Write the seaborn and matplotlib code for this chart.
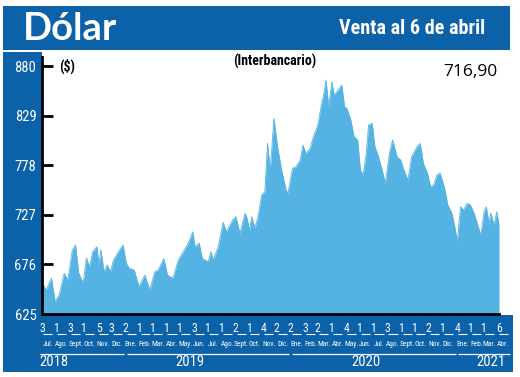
import matplotlib
matplotlib.use('Agg')
import matplotlib.pyplot as plt
import matplotlib.transforms as mtransforms
from matplotlib.patches import Rectangle
from matplotlib import font_manager as fm
import seaborn as sns
import pandas as pd
import numpy as np

# ---------------- data ----------------
fechas = [
    "2018-07-03", "2018-07-11", "2018-07-23", "2018-07-31", "2018-08-09", "2018-08-20",
    "2018-08-28", "2018-09-07", "2018-09-14", "2018-09-21", "2018-10-01", "2018-10-08",
    "2018-10-15", "2018-10-22", "2018-10-31", "2018-11-05", "2018-11-09", "2018-11-16",
    "2018-11-23", "2018-11-30", "2018-12-07", "2018-12-20", "2018-12-28", "2019-01-04",
    "2019-01-11", "2019-01-22", "2019-02-01", "2019-02-14", "2019-02-25", "2019-03-08",
    "2019-03-15", "2019-03-28", "2019-04-05", "2019-04-17", "2019-04-29", "2019-05-10",
    "2019-05-21", "2019-05-31", "2019-06-05", "2019-06-14", "2019-06-21", "2019-07-04",
    "2019-07-10", "2019-07-15", "2019-07-26", "2019-08-06", "2019-08-13", "2019-08-27",
    "2019-09-03", "2019-09-12", "2019-09-23", "2019-09-27", "2019-10-03", "2019-10-08",
    "2019-10-15", "2019-10-22", "2019-10-30", "2019-11-06", "2019-11-12", "2019-11-18",
    "2019-11-26", "2019-12-04", "2019-12-13", "2019-12-23", "2019-12-27", "2020-01-06",
    "2020-01-14", "2020-01-23", "2020-01-29", "2020-02-05", "2020-02-14", "2020-02-21",
    "2020-03-02", "2020-03-09", "2020-03-16", "2020-03-20", "2020-03-26", "2020-04-02",
    "2020-04-07", "2020-04-13", "2020-04-24", "2020-04-30", "2020-05-05", "2020-05-14",
    "2020-05-21", "2020-05-29", "2020-06-04", "2020-06-10", "2020-06-17", "2020-06-22",
    "2020-06-30", "2020-07-06", "2020-07-14", "2020-07-22", "2020-07-29", "2020-08-07",
    "2020-08-14", "2020-08-24", "2020-09-01", "2020-09-08", "2020-09-17", "2020-09-25",
    "2020-10-07", "2020-10-14", "2020-10-21", "2020-10-30", "2020-11-06", "2020-11-13",
    "2020-11-20", "2020-11-27", "2020-12-07", "2020-12-14", "2020-12-23", "2020-12-30",
    "2021-01-04", "2021-01-11", "2021-01-18", "2021-01-26", "2021-02-02", "2021-02-10",
    "2021-02-17", "2021-02-25", "2021-03-04", "2021-03-09", "2021-03-15", "2021-03-19",
    "2021-03-26", "2021-04-01", "2021-04-06",
]
valores = [
    656.6, 649.7, 661.7, 637.6, 644.5, 666.8,
    660.0, 690.8, 696.0, 667.0, 657.0, 682.6,
    673.6, 689.0, 694.2, 675.4, 690.8, 668.5,
    675.4, 668.5, 680.5, 690.8, 696.0, 677.0,
    672.0, 670.0, 653.0, 665.0, 649.7, 668.5,
    670.0, 682.0, 665.0, 661.7, 680.5, 689.0,
    697.7, 709.6, 694.0, 698.0, 682.0, 678.8,
    689.0, 680.5, 694.0, 719.2, 709.6, 721.6,
    725.0, 708.0, 728.5, 725.0, 711.0, 725.0,
    713.4, 725.0, 747.3, 750.8, 800.5, 773.0,
    826.2, 797.0, 773.0, 752.5, 749.0, 774.8,
    776.4, 783.3, 798.7, 790.0, 795.2, 807.0,
    819.3, 838.0, 853.5, 865.6, 838.0, 863.9,
    850.0, 853.5, 860.4, 838.0, 836.5, 824.4,
    807.3, 803.9, 773.0, 767.9, 790.2, 819.3,
    821.0, 797.0, 786.7, 773.0, 759.3, 790.2,
    803.9, 786.7, 783.3, 773.0, 762.7, 786.7,
    797.0, 800.5, 780.0, 769.8, 756.0, 757.6,
    767.9, 769.8, 754.3, 737.0, 728.5, 713.1,
    699.3, 735.3, 731.9, 738.8, 737.0, 728.5,
    718.2, 706.0, 730.2, 735.3, 718.2, 728.5,
    716.5, 730.2, 716.9,
]

y_ticks = [625, 676, 727, 778, 829, 880]

tick_fechas = [
    "2018-07-03", "2018-08-01", "2018-09-03", "2018-10-01", "2018-11-05", "2018-12-03",
    "2019-01-02", "2019-02-01", "2019-03-01", "2019-04-01", "2019-05-01", "2019-06-03",
    "2019-07-01", "2019-08-01", "2019-09-02", "2019-10-01", "2019-11-04", "2019-12-02",
    "2020-01-02", "2020-02-03", "2020-03-02", "2020-04-01", "2020-05-04", "2020-06-01",
    "2020-07-01", "2020-08-03", "2020-09-01", "2020-10-01", "2020-11-02", "2020-12-01",
    "2021-01-04", "2021-02-01", "2021-03-01", "2021-04-06",
]
tick_dias = ["3", "1", "3", "1", "5", "3", "2", "1", "1", "1", "1", "3", "1", "1", "2", "1",
             "4", "2", "2", "3", "2", "1", "4", "1", "1", "3", "1", "1", "2", "1", "4", "1",
             "1", "6"]
meses = ["Jul.", "Ago.", "Sept.", "Oct.", "Nov.", "Dic.",
         "Ene.", "Feb.", "Mar.", "Abr.", "May.", "Jun.", "Jul.", "Ago.", "Sept.", "Oct.", "Nov.", "Dic.",
         "Ene.", "Feb.", "Mar.", "Abr.", "May.", "Jun.", "Jul.", "Ago.", "Sept.", "Oct.", "Nov.", "Dic.",
         "Ene.", "Feb.", "Mar.", "Abr."]
anios = ["2018", "2019", "2020", "2021"]

titulo = "Dólar"
subtitulo = "Venta al 6 de abril"
unidad = "($)"
serie = "(Interbancario)"
ultimo = "716,90"

# ---------------- style ----------------
BANNER = "#0b62a9"
AREA = "#55b3e3"

names = {f.name for f in fm.fontManager.ttflist}
def pick(*cands):
    for c in cands:
        if c in names:
            return c
    return "DejaVu Sans"

NARROW = pick("Liberation Sans Narrow", "Roboto Condensed", "Open Sans Condensed", "DejaVu Sans")
TITLEF = pick("Lato", "Open Sans", "DejaVu Sans")
REG = pick("Open Sans", "Lato", "DejaVu Sans")

sns.set_theme(style="white")
plt.rcParams["font.family"] = [NARROW, "DejaVu Sans"]

W, H = 520, 377
fig = plt.figure(figsize=(W / 100, H / 100), dpi=100)
fig.patch.set_facecolor("white")

def fx(px):
    return px / W

def fy(py):
    return 1 - py / H

# axes: x 42..499, y 57..314 (top-down px)
AX_L, AX_R, AX_T, AX_B = 42, 499, 57, 314
ax = fig.add_axes([fx(AX_L), fy(AX_B), (AX_R - AX_L) / W, (AX_B - AX_T) / H])
ax.set_facecolor("white")

# background blue blocks
fig.add_artist(Rectangle((fx(3), fy(50)), (510 - 3) / W, 44 / H, transform=fig.transFigure,
                         facecolor=BANNER, edgecolor="none", zorder=-1))
fig.add_artist(Rectangle((fx(3), fy(372)), (AX_L - 3) / W, (372 - 52) / H, transform=fig.transFigure,
                         facecolor=BANNER, edgecolor="none", zorder=-1))
fig.add_artist(Rectangle((fx(3), fy(372)), (513 - 3) / W, (372 - 315) / H, transform=fig.transFigure,
                         facecolor=BANNER, edgecolor="none", zorder=-1))

df = pd.DataFrame({"fecha": pd.to_datetime(fechas), "valor": valores})
ax.fill_between(df["fecha"], 625, df["valor"], color=AREA, linewidth=0, zorder=1)
sns.lineplot(data=df, x="fecha", y="valor", ax=ax, color=AREA, linewidth=0.6, zorder=2)

ax.set_xlim(pd.Timestamp("2018-07-02"), pd.Timestamp("2021-04-06"))
ymax = 625 + (AX_B - AX_T) * 255 / 248
ax.set_ylim(625, ymax)
ax.set_xlabel("")
ax.set_ylabel("")

# spines
for s in ["top", "right"]:
    ax.spines[s].set_visible(False)
for s in ["left", "bottom"]:
    ax.spines[s].set_visible(True)
    ax.spines[s].set_color("black")
    ax.spines[s].set_linewidth(2)
    ax.spines[s].set_zorder(5)

# y ticks
ax.set_yticks(y_ticks)
ax.set_yticklabels([str(v) for v in y_ticks])
ax.tick_params(axis="y", direction="in", length=8, width=2, color="black",
               labelcolor="white", labelsize=10.5, pad=4, left=True)
for t in ax.get_yticklabels():
    t.set_fontfamily([NARROW, "DejaVu Sans"])

# x ticks: day numbers
tick_dt = pd.to_datetime(tick_fechas)
ax.set_xticks(tick_dt)
ax.set_xticklabels(tick_dias)
ax.tick_params(axis="x", length=0, labelcolor="white", labelsize=8.5, pad=6, bottom=True)
ax.grid(False)

trans = mtransforms.blended_transform_factory(ax.transData, ax.transAxes)
hpx = AX_B - AX_T

def ay(py):
    return (AX_B - py) / hpx

day = pd.Timedelta(days=1)
# month labels and dashes (centred mid-month)
for d, m in zip(tick_dt, meses):
    c = pd.Timestamp(year=d.year, month=d.month, day=15)
    ax.text(c, ay(344), m, transform=trans, ha="center", va="center", color="white",
            fontsize=5.3, clip_on=False)
    ax.plot([c - 10 * day, c + 10 * day], [ay(333.5)] * 2, transform=trans, color="white",
            lw=0.8, clip_on=False, solid_capstyle="butt")

# year lines and labels
year_spans = {
    "2018": (pd.Timestamp("2018-06-28"), pd.Timestamp("2018-12-29")),
    "2019": (pd.Timestamp("2019-01-05"), pd.Timestamp("2019-12-30")),
    "2020": (pd.Timestamp("2020-01-06"), pd.Timestamp("2020-12-31")),
    "2021": (pd.Timestamp("2021-01-06"), pd.Timestamp("2021-04-30")),
}
year_label_at = {
    "2018": pd.Timestamp("2018-07-29"),
    "2019": pd.Timestamp("2019-05-24"),
    "2020": pd.Timestamp("2020-06-17"),
    "2021": pd.Timestamp("2021-03-19"),
}
for a in anios:
    s, e = year_spans[a]
    ax.plot([s, e], [ay(353.5)] * 2, transform=trans, color="white", lw=0.9,
            clip_on=False, solid_capstyle="butt")
    ax.text(year_label_at[a], ay(362), a, transform=trans, ha="center", va="center",
            color="white", fontsize=10.5, clip_on=False)

# header texts
fig.text(fx(23), fy(29), titulo, color="white", fontsize=27.5, fontweight="bold",
         family=[TITLEF, "DejaVu Sans"], ha="left", va="center")
fig.text(fx(485), fy(28.5), subtitulo, color="white", fontsize=14.5, fontweight="bold",
         family=[NARROW, "DejaVu Sans"], ha="right", va="center")
fig.text(fx(59), fy(66), unidad, color="black", fontsize=10, fontweight="bold",
         family=[NARROW, "DejaVu Sans"], ha="left", va="center")
fig.text(fx(275), fy(61), serie, color="black", fontsize=10, fontweight="bold",
         family=[NARROW, "DejaVu Sans"], ha="center", va="center")
fig.text(fx(498), fy(72), ultimo, color="black", fontsize=12.5,
         family=[REG, "DejaVu Sans"], ha="right", va="center")

fig.savefig("out.png", dpi=100)
